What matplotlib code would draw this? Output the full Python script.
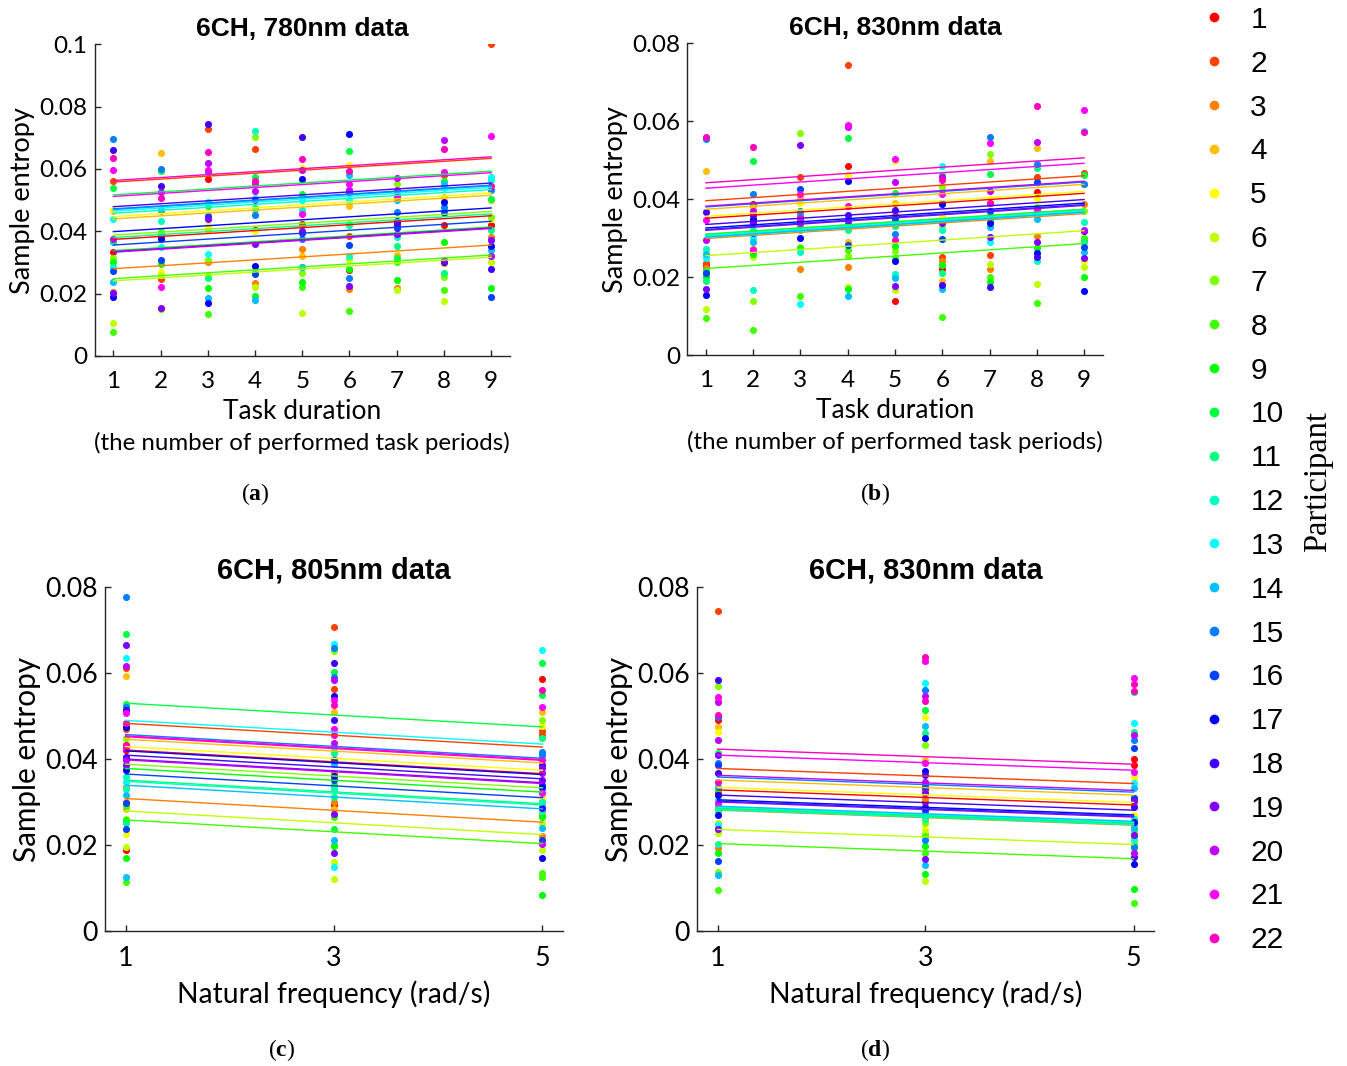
import colorsys
import numpy as np
import matplotlib
matplotlib.use("Agg")
import matplotlib.pyplot as plt
from matplotlib.lines import Line2D

plt.rcParams['mathtext.fontset'] = 'custom'
plt.rcParams['mathtext.bf'] = 'Liberation Serif:bold'
plt.rcParams['mathtext.rm'] = 'Liberation Serif'

# ---- data ----
participants = [str(i) for i in range(1, 23)]
periods = [1, 2, 3, 4, 5, 6, 7, 8, 9]
freqs = [1, 3, 5]

# sample entropy per participant, task periods 1..9, 780 nm
se_780 = [
    [.0334, .0385, .0568, .0405, .0424, .0276, .0420, .0419, .0420],
    [.0561, .0246, .0729, .0665, .0420, .0384, .0389, .0580, .1000],
    [.0205, .0464, .0300, .0234, .0344, .0214, .0219, .0297, .0382],
    [.0466, .0652, .0403, .0470, .0321, .0480, .0325, .0510, .0500],
    [.0470, .0271, .0416, .0400, .0602, .0614, .0500, .0500, .0440],
    [.0105, .0260, .0260, .0220, .0137, .0311, .0213, .0175, .0300],
    [.0316, .0400, .0309, .0702, .0265, .0423, .0551, .0255, .0446],
    [.0076, .0150, .0134, .0270, .0220, .0143, .0300, .0212, .0320],
    [.0302, .0296, .0218, .0194, .0239, .0279, .0244, .0366, .0218],
    [.0540, .0593, .0480, .0573, .0520, .0659, .0313, .0560, .0504],
    [.0365, .0394, .0250, .0475, .0285, .0420, .0353, .0265, .0405],
    [.0287, .0434, .0494, .0721, .0470, .0322, .0383, .0470, .0566],
    [.0440, .0351, .0327, .0507, .0500, .0500, .0520, .0538, .0574],
    [.0236, .0470, .0185, .0180, .0287, .0582, .0500, .0552, .0339],
    [.0695, .0600, .0590, .0451, .0374, .0250, .0461, .0479, .0534],
    [.0273, .0308, .0448, .0263, .0395, .0357, .0412, .0458, .0189],
    [.0190, .0376, .0169, .0289, .0567, .0711, .0432, .0493, .0354],
    [.0662, .0544, .0745, .0500, .0704, .0525, .0427, .0300, .0279],
    [.0201, .0155, .0441, .0360, .0400, .0223, .0390, .0308, .0373],
    [.0374, .0525, .0620, .0528, .0598, .0531, .0570, .0694, .0322],
    [.0597, .0220, .0597, .0553, .0456, .0552, .0531, .0590, .0705],
    [.0635, .0507, .0654, .0560, .0631, .0595, .0510, .0664, .0544],
]

# 830 nm, task periods 1..9
se_830 = [
    [.0230, .0387, .0360, .0486, .0139, .0222, .0390, .0419, .0293],
    [.0235, .0343, .0457, .0744, .0359, .0251, .0257, .0458, .0466],
    [.0224, .0272, .0220, .0227, .0330, .0240, .0220, .0306, .0387],
    [.0472, .0380, .0402, .0290, .0390, .0191, .0498, .0532, .0440],
    [.0263, .0357, .0390, .0462, .0497, .0355, .0400, .0400, .0242],
    [.0117, .0252, .0278, .0175, .0167, .0332, .0233, .0181, .0225],
    [.0205, .0139, .0571, .0255, .0268, .0432, .0515, .0380, .0370],
    [.0096, .0064, .0151, .0270, .0250, .0098, .0201, .0133, .0300],
    [.0199, .0260, .0274, .0169, .0281, .0231, .0187, .0274, .0201],
    [.0215, .0498, .0330, .0556, .0415, .0462, .0464, .0370, .0462],
    [.0190, .0320, .0320, .0320, .0330, .0211, .0360, .0479, .0289],
    [.0272, .0167, .0265, .0335, .0208, .0320, .0347, .0241, .0342],
    [.0248, .0301, .0130, .0330, .0342, .0486, .0291, .0360, .0576],
    [.0260, .0289, .0359, .0152, .0197, .0169, .0329, .0350, .0265],
    [.0555, .0412, .0370, .0340, .0310, .0391, .0560, .0491, .0440],
    [.0211, .0313, .0425, .0283, .0350, .0297, .0370, .0445, .0276],
    [.0154, .0350, .0300, .0447, .0240, .0387, .0340, .0261, .0164],
    [.0366, .0360, .0345, .0360, .0372, .0180, .0174, .0252, .0319],
    [.0169, .0340, .0539, .0347, .0178, .0340, .0302, .0289, .0250],
    [.0295, .0370, .0338, .0585, .0445, .0456, .0420, .0546, .0322],
    [.0347, .0269, .0413, .0590, .0503, .0412, .0543, .0374, .0629],
    [.0560, .0533, .0351, .0382, .0295, .0450, .0390, .0639, .0573],
]

# 805 nm, two trials per participant at 1, 3, 5 rad/s
se_805_w1 = [(.0188, .0420), (.0612, .0470), (.0335, .0300), (.0594, .0283), (.0225, .0440), (.0196, .0260),
             (.0448, .0380), (.0113, .0290), (.0259, .0169), (.0691, .0528), (.0250, .0400), (.0357, .0330),
             (.0636, .0347), (.0316, .0124), (.0778, .0522), (.0298, .0236), (.0475, .0374), (.0514, .0405),
             (.0666, .0386), (.0617, .0398), (.0425, .0506), (.0483, .0433)]
se_805_w3 = [(.0293, .0400), (.0707, .0562), (.0368, .0300), (.0510, .0283), (.0400, .0390), (.0161, .0120),
             (.0652, .0330), (.0264, .0200), (.0197, .0340), (.0603, .0238), (.0413, .0312), (.0425, .0329),
             (.0669, .0149), (.0388, .0211), (.0658, .0592), (.0398, .0351), (.0547, .0360), (.0624, .0491),
             (.0273, .0182), (.0584, .0438), (.0537, .0469), (.0525, .0456)]
se_805_w5 = [(.0587, .0300), (.0466, .0457), (.0221, .0270), (.0509, .0330), (.0478, .0310), (.0188, .0250),
             (.0490, .0280), (.0124, .0134), (.0266, .0083), (.0624, .0550), (.0450, .0290), (.0300, .0280),
             (.0653, .0400), (.0240, .0330), (.0417, .0409), (.0211, .0340), (.0335, .0169), (.0386, .0285),
             (.0378, .0351), (.0367, .0203), (.0520, .0320), (.0561, .0398)]

# 830 nm, two trials per participant at 1, 3, 5 rad/s
se_830_w1 = [(.0491, .0320), (.0744, .0330), (.0192, .0300), (.0537, .0475), (.0464, .0290), (.0227, .0250),
             (.0570, .0137), (.0095, .0240), (.0180, .0330), (.0413, .0290), (.0304, .0280), (.0281, .0203),
             (.0246, .0300), (.0335, .0130), (.0497, .0391), (.0386, .0163), (.0316, .0269), (.0584, .0367),
             (.0409, .0236), (.0444, .0532), (.0544, .0297), (.0502, .0347)]
se_830_w3 = [(.0330, .0300), (.0340, .0320), (.0308, .0225), (.0398, .0320), (.0497, .0236), (.0116, .0230),
             (.0433, .0250), (.0180, .0220), (.0198, .0131), (.0514, .0280), (.0461, .0260), (.0266, .0280),
             (.0576, .0270), (.0477, .0153), (.0561, .0211), (.0335, .0281), (.0448, .0373), (.0363, .0289),
             (.0166, .0320), (.0547, .0347), (.0628, .0390), (.0638, .0534)]
se_830_w5 = [(.0399, .0386), (.0310, .0300), (.0250, .0240), (.0300, .0290), (.0359, .0270), (.0200, .0190),
             (.0240, .0230), (.0064, .0200), (.0096, .0250), (.0555, .0220), (.0462, .0238), (.0211, .0260),
             (.0485, .0343), (.0332, .0240), (.0444, .0196), (.0425, .0308), (.0254, .0155), (.0289, .0172),
             (.0301, .0223), (.0456, .0180), (.0589, .0370), (.0574, .0558)]

# fitted lines (common slope, value at the first x per participant)
fit_780 = [.0374, .0558, .0280, .0440, .0447, .0241, .0388, .0248, .0338, .0517, .0380,
           .0458, .0465, .0470, .0472, .0356, .0399, .0479, .0335, .0333, .0512, .0563]
slope_780 = 0.00095
fit_830a = [.0351, .0396, .0299, .0374, .0356, .0255, .0310, .0222, .0306, .0310, .0304,
            .0302, .0306, .0303, .0380, .0322, .0326, .0335, .0320, .0382, .0428, .0442]
slope_830a = 0.0008
fit_805 = [.0421, .0483, .0308, .0446, .0429, .0279, .0388, .0258, .0378, .0530, .0351,
           .0348, .0490, .0339, .0457, .0365, .0419, .0409, .0400, .0398, .0454, .0452]
slope_805 = -0.00138
fit_830b = [.0328, .0378, .0281, .0351, .0334, .0236, .0287, .0203, .0284, .0286, .0283,
            .0282, .0288, .0290, .0358, .0302, .0305, .0316, .0300, .0362, .0409, .0423]
slope_830b = -0.00088

colors = [colorsys.hsv_to_rgb(i / 24, 1, 1) for i in range(22)]

W, H = 1347, 1066
fig = plt.figure(figsize=(W / 100, H / 100), dpi=100)


def box(l, t, r, b):
    return [l / W, 1 - b / H, (r - l) / W, (b - t) / H]


def style(ax, xticks, xlim, ymax, title, xpad, k):
    # k scales the fonts: the lower panels are printed a little larger
    tf = dict(family='Lato', size=17.5 * k)
    ax.set_xlim(*xlim)
    ax.set_ylim(0, ymax)
    ax.set_xticks(xticks)
    ax.set_xticklabels([str(v) for v in xticks], **tf)
    yt = np.round(np.arange(0, ymax + 1e-9, 0.02), 2)
    ax.set_yticks(yt)
    ax.set_yticklabels(['0' if v == 0 else ('%g' % v) for v in yt], **tf)
    for s in ['top', 'right']:
        ax.spines[s].set_visible(False)
    for s in ['left', 'bottom']:
        ax.spines[s].set_color('#262626')
        ax.spines[s].set_linewidth(1.0)
    ax.tick_params(direction='in', length=4, width=1.0, color='#262626', pad=5)
    ax.tick_params(axis='x', pad=xpad)
    ax.set_title(title, family='Liberation Sans', weight='bold', size=19 * k, pad=6)
    ax.set_ylabel('Sample entropy', labelpad=3, family='Lato', size=19.5 * k)


def top_panel(ax, data, fit, slope, ymax, title):
    for i in range(22):
        ax.scatter(periods, data[i], s=26, color=colors[i], linewidths=0, zorder=2)
    for i in range(22):
        ax.plot([periods[0], periods[-1]],
                [fit[i], fit[i] + slope * (periods[-1] - periods[0])],
                color=colors[i], lw=1.0, zorder=3)
    style(ax, periods, (0.6, 9.4), ymax, title, 11, 1.0)
    ax.set_xlabel('Task duration', labelpad=5, family='Lato', size=19)
    ax.text(0.5, -0.28, '(the number of performed task periods)', transform=ax.transAxes,
            ha='center', va='center', family='Lato', size=17.3)


def bottom_panel(ax, w1, w3, w5, fit, slope, title):
    for i in range(22):
        for f, col in zip(freqs, (w1, w3, w5)):
            ax.scatter([f, f], col[i], s=26, color=colors[i], linewidths=0, zorder=2)
    for i in range(22):
        ax.plot([freqs[0], freqs[-1]],
                [fit[i], fit[i] + slope * (freqs[-1] - freqs[0])],
                color=colors[i], lw=1.0, zorder=3)
    style(ax, freqs, (0.8, 5.2), 0.08, title, 11, 1.1)
    ax.set_xlabel('Natural frequency (rad/s)', labelpad=7, family='Lato', size=20.3)


ax_a = fig.add_axes(box(94.5, 44.3, 510, 356))
top_panel(ax_a, se_780, fit_780, slope_780, 0.1, '6CH, 780nm data')
ax_b = fig.add_axes(box(687, 43.3, 1103, 355))
top_panel(ax_b, se_830, fit_830a, slope_830a, 0.08, '6CH, 830nm data')
ax_c = fig.add_axes(box(104.7, 587.3, 563.3, 930.7))
bottom_panel(ax_c, se_805_w1, se_805_w3, se_805_w5, fit_805, slope_805, '6CH, 805nm data')
ax_d = fig.add_axes(box(696.7, 587.3, 1154.3, 930.7))
bottom_panel(ax_d, se_830_w1, se_830_w3, se_830_w5, fit_830b, slope_830b, '6CH, 830nm data')

# sub-captions
for lab, x, y in [('a', 255, 494), ('b', 875, 494), ('c', 282, 1050), ('d', 875, 1050)]:
    fig.text(x / W, 1 - y / H, '(' + r'$\mathbf{' + lab + '}$' + ')', ha='center', va='center',
             family='Liberation Serif', size=17)

# participant legend
handles = [Line2D([], [], ls='none', marker='o', ms=7, mec='none', color=colors[i]) for i in range(22)]
leg = fig.legend(handles, participants, loc='upper left', bbox_to_anchor=(1184 / W, 1 + 9 / H),
                 frameon=False, prop={'family': 'Liberation Sans', 'size': 21.5},
                 labelspacing=0.53, handlelength=1.0, handletextpad=0.72, borderpad=0)
fig.text(1318 / W, 1 - 481 / H, 'Participant', rotation=90, ha='center', va='center',
         family='Liberation Serif', size=23.5)

fig.savefig('out.png', dpi=100)
